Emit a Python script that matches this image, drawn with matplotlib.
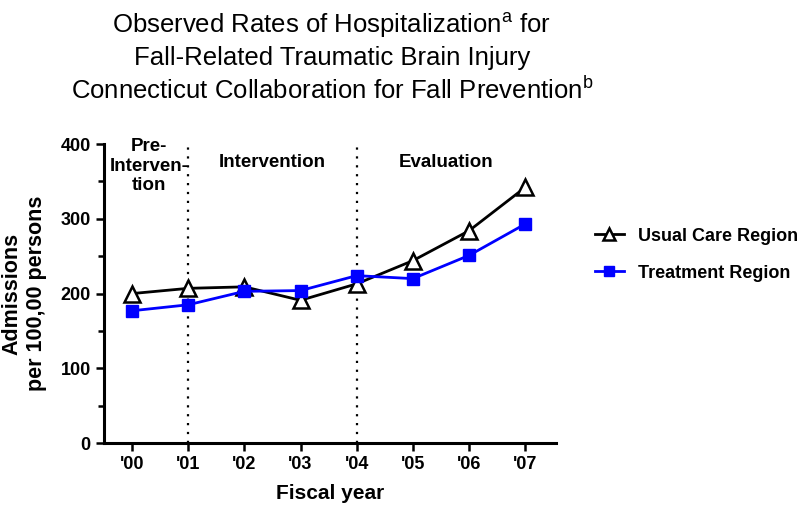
import numpy as np
import matplotlib.pyplot as plt
from matplotlib.ticker import MultipleLocator

# data
years = ["'00", "'01", "'02", "'03", "'04", "'05", "'06", "'07"]
usual_care = [200, 207, 209, 191, 213, 244, 284, 342]
treatment = [177, 185, 203, 204, 224, 220, 251, 293]
phase_breaks = [1, 4]

plt.rcParams['font.family'] = ['Liberation Sans', 'DejaVu Sans']

fig = plt.figure(figsize=(8, 5.11), dpi=100)
ax = fig.add_axes([0.13, 0.133, 0.565, 0.585])

x = np.arange(len(years))
ax.plot(x, usual_care, color='black', lw=2, marker='^', markersize=11,
        markerfacecolor='white', markeredgecolor='black', markeredgewidth=1.8,
        label='Usual Care Region', zorder=3)
ax.plot(x, treatment, color='#0000ff', lw=2, marker='s', markersize=9,
        label='Treatment Region', zorder=4)

for b in phase_breaks:
    ax.plot([b, b], [0, 400], color='black', lw=1.6, linestyle=(0, (1, 3)), zorder=1)

# phase labels
ax.text(0.3, 408, 'Pre-\nInterven-\ntion', ha='center', va='top',
        fontsize=13.5, fontweight='bold', linespacing=1.2)
ax.text(2.5, 375, 'Intervention', ha='center', va='center', fontsize=13.5, fontweight='bold')
ax.text(5.6, 375, 'Evaluation', ha='center', va='center', fontsize=13.5, fontweight='bold')

ax.set_xlim(-0.5, 7.55)
ax.set_ylim(0, 400)
ax.set_xticks(x)
ax.set_xticklabels(years, fontsize=13, fontweight='bold')
ax.yaxis.set_major_locator(MultipleLocator(100))
ax.yaxis.set_minor_locator(MultipleLocator(50))
for lab in ax.get_yticklabels():
    lab.set_fontweight('bold')
    lab.set_fontsize(13)
ax.tick_params(axis='both', which='major', direction='out', length=6, width=1.8)
ax.tick_params(axis='y', which='minor', direction='out', length=4, width=1.8)
ax.spines['top'].set_visible(False)
ax.spines['right'].set_visible(False)
ax.spines['left'].set_linewidth(2.2)
ax.spines['bottom'].set_linewidth(2.2)

ax.set_xlabel('Fiscal year', fontsize=15, fontweight='bold', labelpad=8)
ax.set_ylabel('Admissions\nper 100,00 persons', fontsize=15.5, fontweight='bold', labelpad=10)

fig.text(0.415, 0.98, 'Observed Rates of Hospitalization$^{\\mathregular{a}}$ for\n'
         'Fall-Related Traumatic Brain Injury\n'
         'Connecticut Collaboration for Fall Prevention$^{\\mathregular{b}}$',
         ha='center', va='top', fontsize=18.5, linespacing=1.3)

ax.legend(loc='center left', bbox_to_anchor=(1.05, 0.63), frameon=False,
          prop={'size': 13, 'weight': 'bold'}, handlelength=1.6,
          labelspacing=1.1, markerscale=0.8)

fig.savefig('out.png', dpi=100)
